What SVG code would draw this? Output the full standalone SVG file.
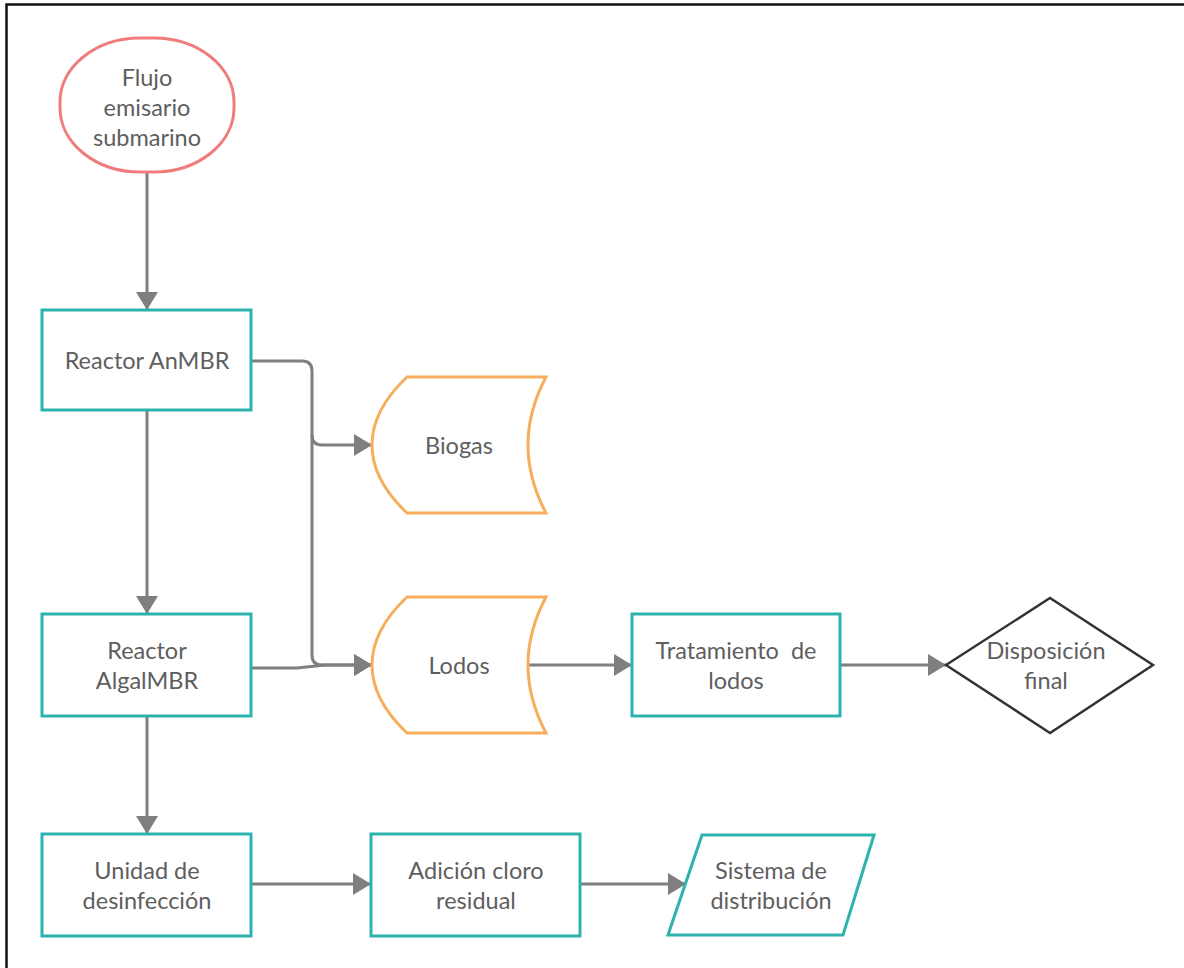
<svg xmlns="http://www.w3.org/2000/svg" width="1184" height="968" viewBox="0 0 1184 968">
<style>
.box{fill:#fff;stroke:#2cb3ae;stroke-width:3}
.store{fill:#fff;stroke:#f6ae5c;stroke-width:3}
.start{fill:#fff;stroke:#ef7b7b;stroke-width:3}
.dec{fill:#fff;stroke:#333;stroke-width:2.5}
.lbl{font-family:Lato,"Open Sans",sans-serif;font-size:23.5px;fill:#5e5e5e;text-anchor:middle}
.con{fill:none;stroke:#7f7f7f;stroke-width:3}
</style>
<defs>
<marker id="ah" markerWidth="18" markerHeight="22" refX="18" refY="11" orient="auto" markerUnits="userSpaceOnUse">
<path d="M0,0 L18,11 L0,22 Z" fill="#7f7f7f"/>
</marker>
</defs>
<rect x="0" y="0" width="1184" height="968" fill="#fff"/>
<rect x="6.5" y="4.5" width="1200" height="1000" fill="none" stroke="#111" stroke-width="2.5"/>
<g id="connectors">
<path class="con" d="M147,172 V310" marker-end="url(#ah)"/>
<path class="con" d="M147,410 V614" marker-end="url(#ah)"/>
<path class="con" d="M147,716 V834" marker-end="url(#ah)"/>
<path class="con" d="M251,361 H302 Q312,361 312,371 V655 Q312,665 322,665 H372" marker-end="url(#ah)"/>
<path class="con" d="M312,435 Q312,445 322,445 H372" marker-end="url(#ah)"/>
<path class="con" d="M251,668 H297 L325,665 H372" marker-end="url(#ah)"/>
<path class="con" d="M527,665 H632" marker-end="url(#ah)"/>
<path class="con" d="M840,665 H946" marker-end="url(#ah)"/>
<path class="con" d="M251,884 H371" marker-end="url(#ah)"/>
<path class="con" d="M580,884 H686" marker-end="url(#ah)"/>
</g>
<g id="start">
<rect class="start" x="60" y="38" width="174" height="134" rx="80" ry="64"/>
<text class="lbl" x="147" y="86">Flujo</text>
<text class="lbl" x="147" y="116">emisario</text>
<text class="lbl" x="147" y="146">submarino</text>
</g>
<g id="anmbr">
<rect class="box" x="42" y="310" width="209" height="100"/>
<text class="lbl" x="147" y="369">Reactor AnMBR</text>
</g>
<g id="algalmbr">
<rect class="box" x="42" y="614" width="209" height="102"/>
<text class="lbl" x="147" y="659">Reactor</text>
<text class="lbl" x="147" y="689">AlgalMBR</text>
</g>
<g id="desinfeccion">
<rect class="box" x="42" y="834" width="209" height="102"/>
<text class="lbl" x="147" y="879">Unidad de</text>
<text class="lbl" x="147" y="909">desinfección</text>
</g>
<g id="cloro">
<rect class="box" x="371" y="834" width="209" height="102"/>
<text class="lbl" x="476" y="879">Adición cloro</text>
<text class="lbl" x="476" y="909">residual</text>
</g>
<g id="distribucion">
<path class="box" d="M702,835 H874 L843,935 H668 Z"/>
<text class="lbl" x="771" y="879">Sistema de</text>
<text class="lbl" x="771" y="909">distribución</text>
</g>
<g id="biogas">
<path class="store" d="M407,377 H546 Q510,445 546,513 H407 Q372,480 372,445 Q372,410 407,377 Z"/>
<text class="lbl" x="459" y="454">Biogas</text>
</g>
<g id="lodos">
<path class="store" d="M407,597 H546 Q510,665 546,733 H407 Q372,700 372,665 Q372,630 407,597 Z"/>
<text class="lbl" x="459" y="674">Lodos</text>
</g>
<g id="tratamiento">
<rect class="box" x="632" y="614" width="208" height="102"/>
<text class="lbl" x="736" y="659" xml:space="preserve">Tratamiento  de</text>
<text class="lbl" x="736" y="689">lodos</text>
</g>
<g id="disposicion">
<path class="dec" d="M946,665 L1050,598 L1153,665 L1050,733 Z"/>
<text class="lbl" x="1046" y="659">Disposición</text>
<text class="lbl" x="1046" y="689">final</text>
</g>
</svg>
